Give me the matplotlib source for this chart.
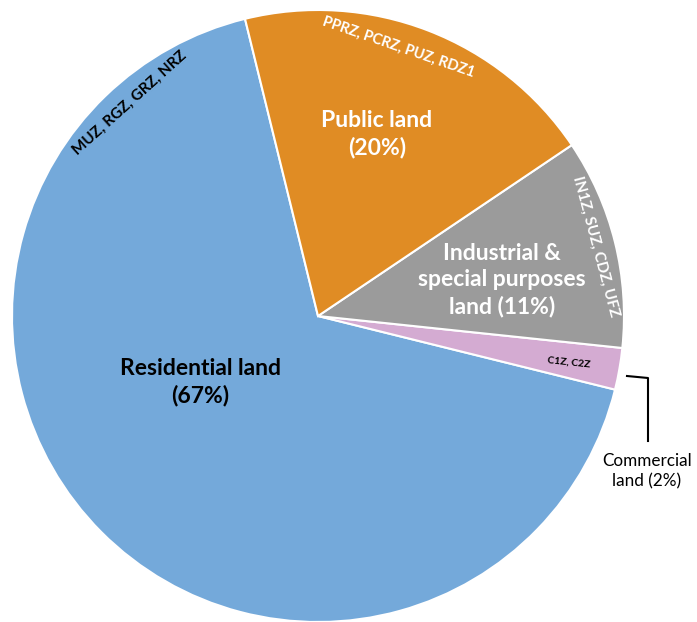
import matplotlib.pyplot as plt

labels = ["Residential land", "Commercial land", "Industrial & special purposes land", "Public land"]
shares = [67.3, 2.2, 11.1, 19.4]
colors = ["#74A9DA", "#D4ABD2", "#9B9B9B", "#E08C24"]

W, H = 697, 622
cx, cy, R = 318, 316, 306


def px(x, y):
    # pixel position in the picture -> data coords (pie radius 1)
    return (x - cx) / R, (cy - y) / R


plt.rcParams['font.family'] = ['Lato', 'DejaVu Sans']

fig = plt.figure(figsize=(W / 100, H / 100), dpi=100)
ax = fig.add_axes([0, 0, 1, 1])
ax.pie(shares, colors=colors, startangle=103.8, counterclock=True,
       wedgeprops=dict(edgecolor="white", linewidth=1.5))
ax.set_xlim(-cx / R, (W - cx) / R)
ax.set_ylim(-(H - cy) / R, cy / R)
ax.set_aspect("auto")
ax.axis("off")

# main labels
ax.text(*px(377, 134), "Public land\n(20%)", color="white", fontsize=16.5,
        fontweight="bold", ha="center", va="center", linespacing=1.35)
ax.text(*px(502, 280), "Industrial &\nspecial purposes\nland (11%)", color="white",
        fontsize=16.5, fontweight="bold", ha="center", va="center", linespacing=1.3)
ax.text(*px(200, 382), "Residential land\n(67%)", color="black", fontsize=16.5,
        fontweight="bold", ha="center", va="center", linespacing=1.35)
ax.text(*px(647, 471), "Commercial\nland (2%)", color="black", fontsize=12.3,
        ha="center", va="center", linespacing=1.3)

# zone codes
ax.text(*px(399, 47), "PPRZ, PCRZ, PUZ, RDZ1", color="white", fontsize=10.5,
        fontweight="bold", ha="center", va="center", rotation=-19)
ax.text(*px(130, 103), "MUZ, RGZ, GRZ, NRZ", color="black", fontsize=11,
        fontweight="bold", ha="center", va="center", rotation=42)
ax.text(*px(596, 246), "IN1Z, SUZ, CDZ, UFZ", color="white", fontsize=11,
        fontweight="bold", ha="center", va="center", rotation=-75)
ax.text(*px(569, 362), "C1Z, C2Z", color="black", fontsize=7.5,
        fontweight="bold", ha="center", va="center", rotation=-6)

# leader line for commercial
lx, ly = zip(px(627, 376), px(648, 378), px(648, 441))
ax.plot(lx, ly, color="black", linewidth=1.5)

fig.savefig("out.png", dpi=100)
